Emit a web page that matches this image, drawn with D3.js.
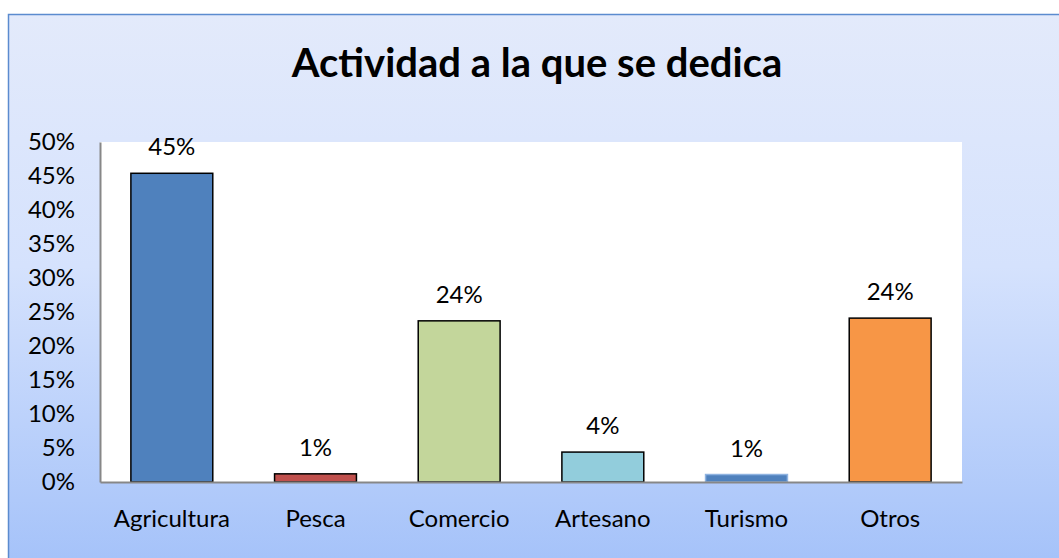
<!DOCTYPE html>
<html>
<head>
<meta charset="utf-8">
<script src="https://cdn.jsdelivr.net/npm/d3@7.9.0/dist/d3.min.js"></script>
<style>
  body { margin: 0; background: #fff; }
  svg { display: block; font-family: Lato, "Open Sans", sans-serif; }
</style>
</head>
<body>
<svg id="chart" width="1059" height="558"></svg>
<script>
const categories = ["Agricultura", "Pesca", "Comercio", "Artesano", "Turismo", "Otros"];
const values = [0.454, 0.012, 0.237, 0.044, 0.011, 0.241];
const valueLabels = ["45%", "1%", "24%", "4%", "1%", "24%"];
const barColors = ["#4F81BD", "#C0504D", "#C3D69B", "#92CDDC", "#4F81BD", "#F79646"];
const tickValues = [0, 0.05, 0.1, 0.15, 0.2, 0.25, 0.3, 0.35, 0.4, 0.45, 0.5];

const svg = d3.select("#chart");

// background gradient
const defs = svg.append("defs");
const grad = defs.append("linearGradient").attr("id", "bg")
  .attr("x1", 0).attr("y1", 0).attr("x2", 0).attr("y2", 1);
grad.append("stop").attr("offset", "0%").attr("stop-color", "#e3eafb");
grad.append("stop").attr("offset", "45%").attr("stop-color", "#d5e2fd");
grad.append("stop").attr("offset", "100%").attr("stop-color", "#a3c1f9");

svg.append("rect")
  .attr("x", 8.5).attr("y", 14.5).attr("width", 1060).attr("height", 560)
  .attr("fill", "url(#bg)").attr("stroke", "#5b8bcf").attr("stroke-width", 1.5);

// title
svg.append("text")
  .attr("x", 537).attr("y", 77)
  .attr("text-anchor", "middle")
  .attr("font-size", 40).attr("font-weight", "bold")
  .attr("fill", "#000")
  .text("Actividad a la que se dedica");

const plot = { left: 100, right: 962, top: 142, bottom: 482 };

svg.append("rect")
  .attr("x", plot.left).attr("y", plot.top)
  .attr("width", plot.right - plot.left).attr("height", plot.bottom - plot.top)
  .attr("fill", "#fff");

const x = d3.scaleBand().domain(categories).range([plot.left, plot.right]).paddingInner(0.43).paddingOuter(0.215);
const y = d3.scaleLinear().domain([0, 0.5]).range([plot.bottom, plot.top]);

// bars
svg.append("g").selectAll("rect")
  .data(categories)
  .join("rect")
  .attr("x", d => x(d))
  .attr("y", (d, i) => y(values[i]))
  .attr("width", x.bandwidth())
  .attr("height", (d, i) => y(0) - y(values[i]))
  .attr("fill", (d, i) => barColors[i])
  .attr("stroke", (d, i) => d === "Turismo" ? "#8fb3e0" : "#000")
  .attr("stroke-width", 1.5);

// value labels
svg.append("g").selectAll("text")
  .data(categories)
  .join("text")
  .attr("x", d => x(d) + x.bandwidth() / 2)
  .attr("y", (d, i) => y(values[i]) - 18)
  .attr("text-anchor", "middle")
  .attr("font-size", 24)
  .attr("fill", "#000")
  .text((d, i) => valueLabels[i]);

// y axis
const yAxis = svg.append("g")
  .attr("transform", `translate(${plot.left},0)`)
  .call(d3.axisLeft(y).tickValues(tickValues).tickFormat(d3.format(".0%")).tickSize(0).tickPadding(25));
yAxis.select(".domain").attr("stroke", "#878787").attr("stroke-width", 2);
yAxis.selectAll("text").attr("font-size", 24).attr("fill", "#000").attr("font-family", "Lato, sans-serif");

// x axis
const xAxis = svg.append("g")
  .attr("transform", `translate(0,${plot.bottom})`)
  .call(d3.axisBottom(x).tickSize(0).tickPadding(28));
xAxis.select(".domain").attr("stroke", "#878787").attr("stroke-width", 2);
xAxis.selectAll("text").attr("font-size", 24).attr("fill", "#000").attr("font-family", "Lato, sans-serif");
</script>
</body>
</html>
